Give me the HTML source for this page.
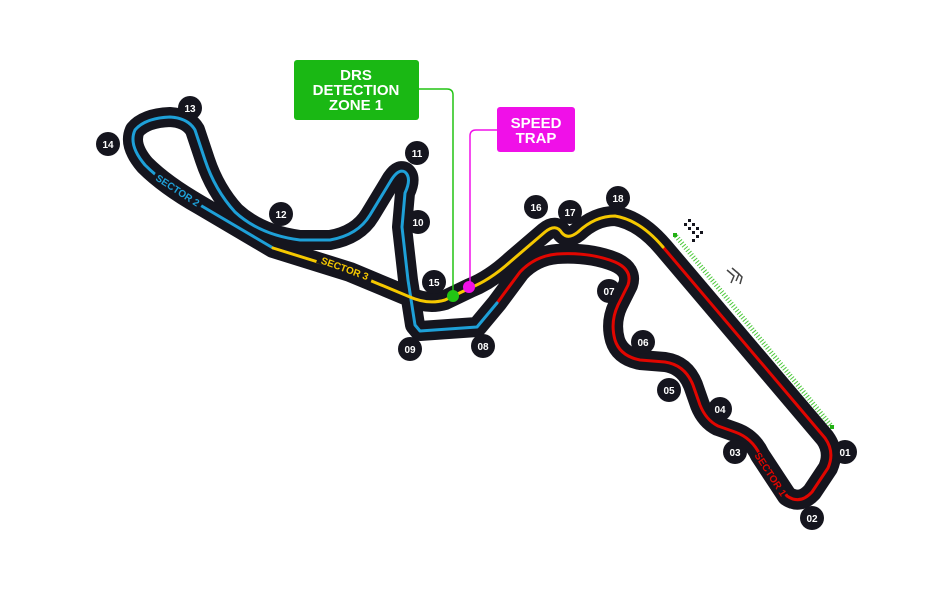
<!DOCTYPE html>
<html><head><meta charset="utf-8"><style>
html,body{margin:0;padding:0;background:#fff;}
svg{display:block;}
.n{font-family:"Liberation Sans",sans-serif;font-weight:bold;font-size:10px;fill:#fff;text-anchor:middle;}
.s{font-family:"Liberation Sans",sans-serif;font-weight:bold;font-size:10px;text-anchor:middle;}
.b{font-family:"Liberation Sans",sans-serif;font-weight:900;font-size:15px;fill:#fff;text-anchor:middle;}
</style></head><body>
<svg width="937" height="616" viewBox="0 0 937 616" xmlns="http://www.w3.org/2000/svg">
<g fill="none" stroke-linejoin="round" stroke-linecap="round">
<path stroke="#15151e" stroke-width="20" d="M663,247 L825,438 Q835,452 828,468 L812,492 Q800,505 787,496 L760,455 Q752,438 735,432 L718,426 Q706,420 700,405 L693,385 Q685,365 665,362 L640,360 Q620,356 615,340 Q610,322 618,305 L628,285 Q633,270 615,262 Q590,252 557,254 Q535,256 520,272 L497,303 L477,327 L420,331 L415,325 L408,280 L402,227 L405,193 Q412,178 405,172 Q398,168 390,182 L370,215 Q358,235 330,240 L300,240 Q260,235 235,212 Q215,190 205,160 L195,130 Q188,118 170,117 Q145,118 135,130 Q128,145 145,165 Q165,185 200,205 L273,248 L350,272 L410,297 Q428,305 445,300 L470,288 Q490,280 510,262 L545,232 Q556,223 562,233 Q568,240 578,232 Q595,216 615,216 Q640,220 663,247"/>
<path stroke="#e10600" stroke-width="3" d="M663,247 L825,438 Q835,452 828,468 L812,492 Q800,505 787,496 L760,455 Q752,438 735,432 L718,426 Q706,420 700,405 L693,385 Q685,365 665,362 L640,360 Q620,356 615,340 Q610,322 618,305 L628,285 Q633,270 615,262 Q590,252 557,254 Q535,256 520,272 L497,303"/>
<path stroke="#1ea0d8" stroke-width="3" d="M497,303 L477,327 L420,331 L415,325 L408,280 L402,227 L405,193 Q412,178 405,172 Q398,168 390,182 L370,215 Q358,235 330,240 L300,240 Q260,235 235,212 Q215,190 205,160 L195,130 Q188,118 170,117 Q145,118 135,130 Q128,145 145,165 Q165,185 200,205 L273,248"/>
<path stroke="#f5c800" stroke-width="3" d="M273,248 L350,272 L410,297 Q428,305 445,300 L470,288 Q490,280 510,262 L545,232 Q556,223 562,233 Q568,240 578,232 Q595,216 615,216 Q640,220 663,247"/>
</g>
<rect x="150" y="184" width="56" height="11" fill="#15151e" transform="rotate(33 178 190)"/>
<text class="s" fill="#1ea0d8" x="178" y="194" transform="rotate(33 178 190)">SECTOR 2</text>
<rect x="316" y="262" width="58" height="11" fill="#15151e" transform="rotate(20 345 268)"/>
<text class="s" fill="#f5c800" x="345" y="272" transform="rotate(20 345 268)">SECTOR 3</text>
<rect x="746" y="469" width="50" height="11" fill="#15151e" transform="rotate(57 771 474)"/>
<text class="s" fill="#e10600" x="771" y="478" transform="rotate(57 771 474)">SECTOR 1</text>
<path d="M419,89 L447,89 Q453,89 453,95 L453,296" fill="none" stroke="#22c414" stroke-width="1.5"/>
<circle cx="453" cy="296" r="6" fill="#22c414"/>
<path d="M497,130 L476,130 Q470,130 470,136 L470,287" fill="none" stroke="#f010e8" stroke-width="1.5"/>
<circle cx="469" cy="287" r="6" fill="#f010e8"/>
<rect x="294" y="60" width="125" height="60" rx="3" fill="#1ab814"/>
<text class="b" x="356" y="80">DRS</text>
<text class="b" x="356" y="95">DETECTION</text>
<text class="b" x="356" y="110">ZONE 1</text>
<rect x="497" y="107" width="78" height="45" rx="3" fill="#f010e8"/>
<text class="b" x="536" y="128">SPEED</text>
<text class="b" x="536" y="143">TRAP</text>
<line x1="676" y1="236" x2="833" y2="428" stroke="#4cc93a" stroke-width="5" stroke-dasharray="1 2"/>
<rect x="673" y="233" width="4" height="4" fill="#22b014"/>
<rect x="830" y="425" width="4" height="4" fill="#22b014"/>
<g fill="#15151e">
<rect x="688" y="219" width="3" height="3"/><rect x="684" y="223" width="3" height="3"/><rect x="692" y="223" width="3" height="3"/>
<rect x="688" y="227" width="3" height="3"/><rect x="696" y="227" width="3" height="3"/><rect x="692" y="231" width="3" height="3"/>
<rect x="700" y="231" width="3" height="3"/><rect x="696" y="235" width="3" height="3"/><rect x="692" y="239" width="3" height="3"/>
</g>
<path d="M727,270 L734,276 L731,283 M732,268 L739,274 L736,281 M737,272 L742,277 L740,284" fill="none" stroke="#444" stroke-width="1.5"/>
<g>
<circle cx="845" cy="452" r="12" fill="#15151e"/><text class="n" x="845" y="456">01</text>
<circle cx="812" cy="518" r="12" fill="#15151e"/><text class="n" x="812" y="522">02</text>
<circle cx="735" cy="452" r="12" fill="#15151e"/><text class="n" x="735" y="456">03</text>
<circle cx="720" cy="409" r="12" fill="#15151e"/><text class="n" x="720" y="413">04</text>
<circle cx="669" cy="390" r="12" fill="#15151e"/><text class="n" x="669" y="394">05</text>
<circle cx="643" cy="342" r="12" fill="#15151e"/><text class="n" x="643" y="346">06</text>
<circle cx="609" cy="291" r="12" fill="#15151e"/><text class="n" x="609" y="295">07</text>
<circle cx="483" cy="346" r="12" fill="#15151e"/><text class="n" x="483" y="350">08</text>
<circle cx="410" cy="349" r="12" fill="#15151e"/><text class="n" x="410" y="353">09</text>
<circle cx="418" cy="222" r="12" fill="#15151e"/><text class="n" x="418" y="226">10</text>
<circle cx="417" cy="153" r="12" fill="#15151e"/><text class="n" x="417" y="157">11</text>
<circle cx="281" cy="214" r="12" fill="#15151e"/><text class="n" x="281" y="218">12</text>
<circle cx="190" cy="108" r="12" fill="#15151e"/><text class="n" x="190" y="112">13</text>
<circle cx="108" cy="144" r="12" fill="#15151e"/><text class="n" x="108" y="148">14</text>
<circle cx="434" cy="282" r="12" fill="#15151e"/><text class="n" x="434" y="286">15</text>
<circle cx="536" cy="207" r="12" fill="#15151e"/><text class="n" x="536" y="211">16</text>
<circle cx="570" cy="212" r="12" fill="#15151e"/><text class="n" x="570" y="216">17</text>
<circle cx="618" cy="198" r="12" fill="#15151e"/><text class="n" x="618" y="202">18</text>
</g>
</svg>
</body></html>
